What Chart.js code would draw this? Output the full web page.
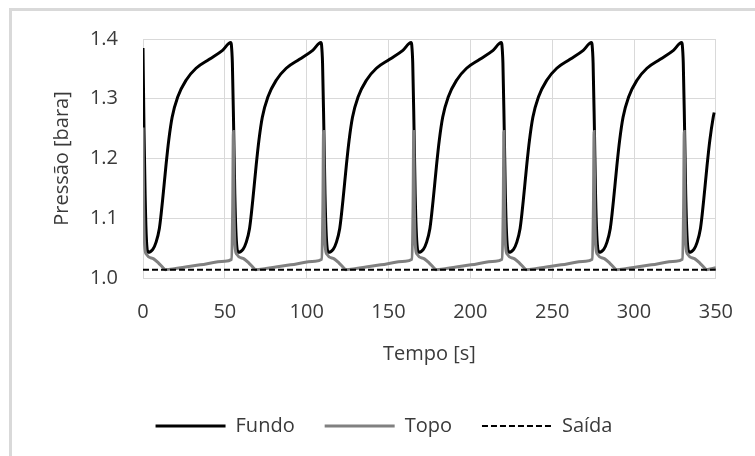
<!DOCTYPE html>
<html>
<head>
<meta charset="utf-8">
<script src="https://cdn.jsdelivr.net/npm/chart.js@4"></script>
<style>
  body { margin: 0; background: #fff; }
  #frame { position: absolute; left: 9px; top: 8px; width: 800px; height: 500px; border: 3px solid #d9d9d9; }
  #chart { position: absolute; left: 0; top: 0; }
</style>
</head>
<body>
<div id="frame"></div>
<canvas id="chart" width="755" height="456"></canvas>
<script>
// Fundo (bottom) pressure
const fundoTempo = [
  0, 0.6, 1.3, 2.0,
  3.0, 6.0, 8.0, 10.0, 11.0, 12.1, 13.1, 14.1, 15.7, 17.8, 21.2, 26.3, 32.4, 40.5, 48.6, 53.6, 54.0, 54.6, 55.4, 56.1, 56.9,
  58.1, 61.1, 63.1, 65.1, 66.1, 67.2, 68.2, 69.2, 70.8, 72.9, 76.3, 81.4, 87.5, 95.6, 103.7, 108.7, 109.1, 109.7, 110.5, 111.2, 112.0,
  113.2, 116.2, 118.2, 120.2, 121.2, 122.3, 123.3, 124.3, 125.9, 128.0, 131.4, 136.5, 142.6, 150.7, 158.8, 163.8, 164.2, 164.8, 165.6, 166.3, 167.1,
  168.3, 171.3, 173.3, 175.3, 176.3, 177.4, 178.4, 179.4, 181.0, 183.1, 186.5, 191.6, 197.7, 205.8, 213.9, 218.9, 219.3, 219.9, 220.7, 221.4, 222.2,
  223.4, 226.4, 228.4, 230.4, 231.4, 232.5, 233.5, 234.5, 236.1, 238.2, 241.6, 246.7, 252.8, 260.9, 269.0, 274.0, 274.4, 275.0, 275.8, 276.5, 277.3,
  278.5, 281.5, 283.5, 285.5, 286.5, 287.6, 288.6, 289.6, 291.2, 293.3, 296.7, 301.8, 307.9, 316.0, 324.1, 329.1, 329.5, 330.1, 330.9, 331.6, 332.4,
  333.6, 336.6, 338.6, 340.6, 341.6, 342.7, 343.7, 344.7, 346.3, 348.4, 349.0
];
const fundoPressao = [
  1.385, 1.250, 1.140, 1.070,
  1.043, 1.048, 1.060, 1.083, 1.105, 1.134, 1.162, 1.190, 1.230, 1.269, 1.303, 1.331, 1.351, 1.366, 1.381, 1.394, 1.390, 1.360, 1.250, 1.140, 1.070,
  1.043, 1.048, 1.060, 1.083, 1.105, 1.134, 1.162, 1.190, 1.230, 1.269, 1.303, 1.331, 1.351, 1.366, 1.381, 1.394, 1.390, 1.360, 1.250, 1.140, 1.070,
  1.043, 1.048, 1.060, 1.083, 1.105, 1.134, 1.162, 1.190, 1.230, 1.269, 1.303, 1.331, 1.351, 1.366, 1.381, 1.394, 1.390, 1.360, 1.250, 1.140, 1.070,
  1.043, 1.048, 1.060, 1.083, 1.105, 1.134, 1.162, 1.190, 1.230, 1.269, 1.303, 1.331, 1.351, 1.366, 1.381, 1.394, 1.390, 1.360, 1.250, 1.140, 1.070,
  1.043, 1.048, 1.060, 1.083, 1.105, 1.134, 1.162, 1.190, 1.230, 1.269, 1.303, 1.331, 1.351, 1.366, 1.381, 1.394, 1.390, 1.360, 1.250, 1.140, 1.070,
  1.043, 1.048, 1.060, 1.083, 1.105, 1.134, 1.162, 1.190, 1.230, 1.269, 1.303, 1.331, 1.351, 1.366, 1.381, 1.394, 1.390, 1.360, 1.250, 1.140, 1.070,
  1.043, 1.048, 1.060, 1.083, 1.105, 1.134, 1.162, 1.190, 1.230, 1.269, 1.277
];

// Topo (top) pressure
const topoTempo = [
  0, 0.4, 1.0, 2.0, 6.5, 9.5, 12.0, 13.5, 20.0, 35.0, 50.0,
  54.0, 54.8, 55.2, 55.6, 56.2, 57.2, 61.7, 64.7, 67.2, 68.7, 75.2, 90.2, 105.2,
  109.1, 109.9, 110.3, 110.7, 111.3, 112.3, 116.8, 119.8, 122.3, 123.8, 130.3, 145.3, 160.3,
  164.2, 165.0, 165.4, 165.8, 166.4, 167.4, 171.9, 174.9, 177.4, 178.9, 185.4, 200.4, 215.4,
  219.3, 220.1, 220.5, 220.9, 221.5, 222.5, 227.0, 230.0, 232.5, 234.0, 240.5, 255.5, 270.5,
  274.4, 275.2, 275.6, 276.0, 276.6, 277.6, 282.1, 285.1, 287.6, 289.1, 295.6, 310.6, 325.6,
  329.5, 330.3, 330.7, 331.1, 331.7, 332.7, 337.2, 340.2, 342.7, 344.2, 350.0
];
const topoPressao = [
  1.252, 1.120, 1.055, 1.040, 1.032, 1.025, 1.018, 1.014, 1.016, 1.022, 1.028,
  1.031, 1.120, 1.245, 1.120, 1.055, 1.040, 1.032, 1.025, 1.018, 1.014, 1.016, 1.022, 1.028,
  1.031, 1.120, 1.245, 1.120, 1.055, 1.040, 1.032, 1.025, 1.018, 1.014, 1.016, 1.022, 1.028,
  1.031, 1.120, 1.245, 1.120, 1.055, 1.040, 1.032, 1.025, 1.018, 1.014, 1.016, 1.022, 1.028,
  1.031, 1.120, 1.245, 1.120, 1.055, 1.040, 1.032, 1.025, 1.018, 1.014, 1.016, 1.022, 1.028,
  1.031, 1.120, 1.245, 1.120, 1.055, 1.040, 1.032, 1.025, 1.018, 1.014, 1.016, 1.022, 1.028,
  1.031, 1.120, 1.245, 1.120, 1.055, 1.040, 1.032, 1.025, 1.018, 1.014, 1.017
];

// Saída (outlet) pressure
const saidaTempo = [0, 350];
const saidaPressao = [1.014, 1.014];

const xTicks = [0, 50, 100, 150, 200, 250, 300, 350];
const yTicks = [1.0, 1.1, 1.2, 1.3, 1.4];

const toPoints = (xs, ys) => xs.map((x, i) => ({ x: x, y: ys[i] }));
const font = { family: 'Open Sans', size: 20 };
const textColor = '#3a3a3a';
const gridColor = '#d9d9d9';

const ctx = document.getElementById('chart').getContext('2d');
const chart = new Chart(ctx, {
    type: 'line',
    data: {
        datasets: [{
            label: 'Fundo',
            data: toPoints(fundoTempo, fundoPressao),
            borderColor: '#000000',
            backgroundColor: '#000000',
            borderWidth: 3,
            cubicInterpolationMode: 'monotone',
            order: 2
        }, {
            label: 'Topo',
            data: toPoints(topoTempo, topoPressao),
            borderColor: '#808080',
            backgroundColor: '#808080',
            borderWidth: 3,
            cubicInterpolationMode: 'monotone',
            order: 1
        }, {
            label: 'Saída',
            data: toPoints(saidaTempo, saidaPressao),
            borderColor: '#000000',
            backgroundColor: '#000000',
            borderWidth: 2,
            borderDash: [6, 3],
            order: 0
        }]
    },
    options: {
        responsive: false,
        animation: false,
        layout: { padding: { left: 50, right: 37, top: 39, bottom: 10 } },
        elements: { point: { radius: 0 } },
        plugins: {
            tooltip: { enabled: false },
            legend: {
                position: 'bottom',
                labels: {
                    font: font,
                    color: textColor,
                    usePointStyle: true,
                    boxWidth: 70,
                    boxHeight: 10,
                    padding: 30,
                    sort: (a, b) => a.datasetIndex - b.datasetIndex,
                    generateLabels: (c) => c.data.datasets.map((ds, i) => ({
                        text: ds.label,
                        strokeStyle: ds.borderColor,
                        fillStyle: ds.borderColor,
                        lineWidth: ds.borderWidth,
                        lineDash: ds.borderDash || [],
                        pointStyle: 'line',
                        fontColor: textColor,
                        hidden: false,
                        datasetIndex: i
                    })),
                    pointStyleWidth: 70
                }
            }
        },
        scales: {
            x: {
                type: 'linear',
                min: 0,
                max: 350,
                afterBuildTicks: (s) => { s.ticks = xTicks.map(v => ({ value: v })); },
                afterFit: (s) => { s.height = 108; },
                grid: { color: gridColor, drawTicks: false },
                border: { color: gridColor },
                ticks: { font: font, color: textColor, padding: 22 },
                title: { display: true, text: 'Tempo [s]', font: font, color: textColor, padding: { top: 0, bottom: 20 } }
            },
            y: {
                type: 'linear',
                min: 1.0,
                max: 1.4,
                afterBuildTicks: (s) => { s.ticks = yTicks.map(v => ({ value: v })); },
                afterFit: (s) => { s.width = 93; },
                grid: { color: gridColor, drawTicks: false },
                border: { color: gridColor },
                ticks: { font: font, color: textColor, padding: 25, callback: (v) => v.toFixed(1) },
                title: { display: true, text: 'Pressão [bara]', font: font, color: textColor, padding: { top: 0, bottom: 0 } }
            }
        }
    }
});
</script>
</body>
</html>
